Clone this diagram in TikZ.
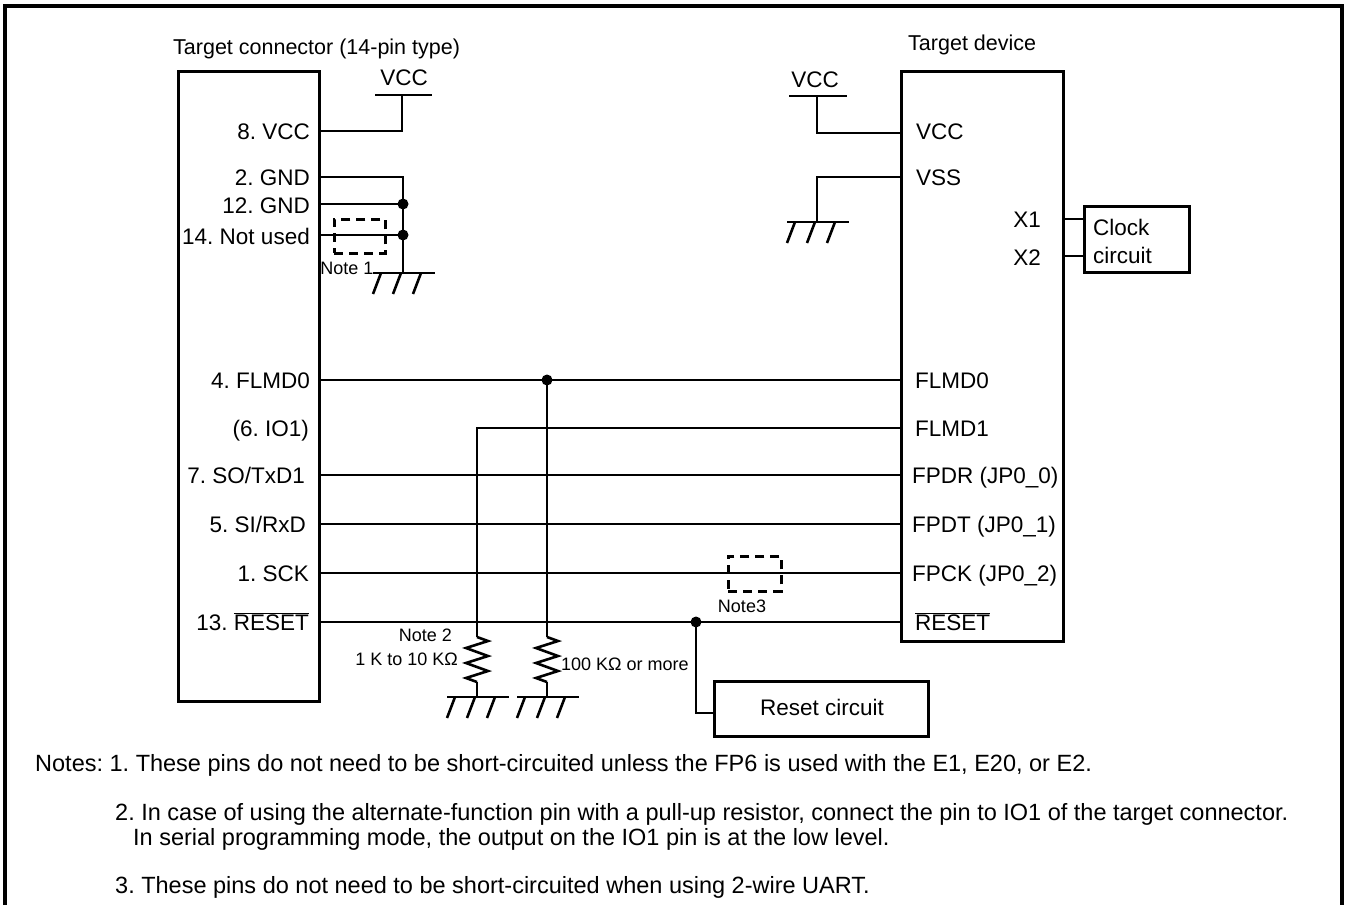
\documentclass[tikz,border=0pt]{standalone}
\usepackage{fontspec}
\setmainfont{Liberation Sans}
\frenchspacing
\begin{document}
\begin{tikzpicture}[x=1pt,y=-1pt,
  wire/.style={line width=2.6pt},
  boxed/.style={draw, line width=2.6pt, inner sep=0pt},
  dashbox/.style={draw, line width=2.6pt, dash pattern=on 9pt off 6pt, inner sep=0pt},
  lbl/.style={font=\fontsize{22.5}{26}\selectfont, inner sep=0pt},
  ttl/.style={font=\fontsize{21.5}{25}\selectfont, inner sep=0pt},
  sml/.style={font=\fontsize{18}{20}\selectfont, inner sep=0pt},
  nts/.style={font=\fontsize{23.5}{27}\selectfont, inner sep=0pt, anchor=base west},
  jdot/.style={circle, fill, inner sep=0pt, minimum size=11pt},
  gnd/.pic={\draw[wire] (-30,0) -- (32,0);
            \foreach \d in {-22,-2,18} \draw[wire] (\d,0) -- (\d-8,21);},
  resz/.pic={\draw[wire, line join=miter] (0,0) -- (11,4) -- (-11,11) -- (11,19) -- (-11,26) -- (11,34) -- (-11,41) -- (0,45);}
]
\useasboundingbox (0,0) rectangle (1346,905);
\draw[line width=3.5pt] (5,905) -- (5,6) -- (1342,6) -- (1342,905);

% titles
\node[ttl, anchor=base west] (t1) at (173,54) {Target connector (14-pin type)};
\node[ttl, anchor=base west] (t2) at (908,50) {Target device};

% boxes
\node[boxed, minimum width=141pt, minimum height=630pt, anchor=north west] (conn) at (177,70) {};
\node[boxed, minimum width=162pt, minimum height=570pt, anchor=north west] (dev) at (900,70) {};
\node[boxed, minimum width=105pt, minimum height=66pt, anchor=north west] (clk) at (1083,205) {};
\node[boxed, minimum width=214pt, minimum height=55pt, anchor=north west] (rst) at (713,680) {};
\node[lbl, anchor=base west] (clkt1) at (1093,235) {Clock};
\node[lbl, anchor=base west] (clkt2) at (1093,263) {circuit};
\node[lbl] (rstt) at (822,707) {Reset circuit};

% left pin labels
\node[lbl, anchor=base east] (l8) at (310,139) {8. VCC};
\node[lbl, anchor=base east] (l2) at (310,185) {2. GND};
\node[lbl, anchor=base east] (l12) at (310,213) {12. GND};
\node[lbl, anchor=base east] (l14) at (310,244) {14. Not used};
\node[lbl, anchor=base east] (l4) at (310,388) {4. FLMD0};
\node[lbl, anchor=base east] (l6) at (309,436) {(6. IO1)};
\node[lbl, anchor=base east] (l7) at (305,483) {7. SO/TxD1};
\node[lbl, anchor=base east] (l5) at (306,532) {5. SI/RxD};
\node[lbl, anchor=base east] (l1) at (309,581) {1. SCK};
\node[lbl, anchor=base east] (l13) at (309,630) {13. $\overline{\mbox{RESET}}$};

% right pin labels
\node[lbl, anchor=base west] (rvcc) at (916,139) {VCC};
\node[lbl, anchor=base west] (rvss) at (916,185) {VSS};
\node[lbl, anchor=base east] (rx1) at (1041,227) {X1};
\node[lbl, anchor=base east] (rx2) at (1041,265) {X2};
\node[lbl, anchor=base west] (rf0) at (915,388) {FLMD0};
\node[lbl, anchor=base west] (rf1) at (915,436) {FLMD1};
\node[lbl, anchor=base west] (rdr) at (912,483) {FPDR (JP0\_0)};
\node[lbl, anchor=base west] (rdt) at (912,532) {FPDT (JP0\_1)};
\node[lbl, anchor=base west] (rck) at (912,581) {FPCK (JP0\_2)};
\node[lbl, anchor=base west] (rrs) at (915,630) {$\overline{\mbox{RESET}}$};

% left VCC
\coordinate (lv) at (402,95);
\draw[wire] (375,95) -- (432,95);
\node[lbl] (lvcc) at (404,78) {VCC};
\draw[wire] (conn.east |- 0,131) -| (lv);

% left GND
\coordinate (lg) at (403,273);
\draw[wire] (conn.east |- 0,177) -| (lg);
\draw[wire] (conn.east |- 0,204) -- (403,204) node[jdot] (d12) {};
\draw[wire] (conn.east |- 0,235) -- (403,235) node[jdot] (d14) {};
\pic at (lg) {gnd};
\node[dashbox, minimum width=51pt, minimum height=34pt, anchor=north west] (n1) at (333,218) {};
\node[sml] (n1t) at (347,268) {Note 1};

% right VCC / VSS
\coordinate (rv) at (817,96);
\draw[wire] (789,96) -- (847,96);
\node[lbl] (rvcct) at (815,80) {VCC};
\draw[wire] (dev.west |- 0,133) -| (rv);
\coordinate (rg) at (817,222);
\draw[wire] (dev.west |- 0,177) -| (rg);
\pic at (rg) {gnd};

% clock lines
\draw[wire] (dev.east |- 0,219) -- (clk.west |- 0,219);
\draw[wire] (dev.east |- 0,256) -- (clk.west |- 0,256);

% signal lines
\draw[wire] (conn.east |- 0,380) -- (dev.west |- 0,380);
\draw[wire] (conn.east |- 0,475) -- (dev.west |- 0,475);
\draw[wire] (conn.east |- 0,524) -- (dev.west |- 0,524);
\draw[wire] (conn.east |- 0,573) -- (dev.west |- 0,573);
\draw[wire] (conn.east |- 0,622) -- (dev.west |- 0,622);
\node[jdot] (dfl) at (547,380) {};
\node[jdot] (drs) at (696,622) {};

% FLMD1 and resistors
\coordinate (r1) at (477,637);
\coordinate (r2) at (547,637);
\draw[wire] (dev.west |- 0,428) -- (477,428) -- (r1);
\draw[wire] (dfl.center) -- (r2);
\pic at (r1) {resz};
\pic at (r2) {resz};
\coordinate (g1) at (477,697);
\coordinate (g2) at (547,697);
\draw[wire] (477,682) -- (g1);
\draw[wire] (547,682) -- (g2);
\pic at (g1) {gnd};
\pic at (g2) {gnd};
\node[sml, anchor=base east] (n2t) at (452,641) {Note 2};
\node[sml, anchor=base east] (r1t) at (458,665) {1 K to 10 KΩ};
\node[sml, anchor=base west] (r2t) at (561,670) {100 KΩ or more};

% reset circuit link
\draw[wire] (drs.center) |- (rst.west |- 0,713);

% Note 3
\node[dashbox, minimum width=53pt, minimum height=35pt, anchor=north west] (n3) at (727,555) {};
\node[sml] (n3t) at (742,606) {Note3};

% notes
\node[nts] (nt1) at (35,771) {Notes: 1. These pins do not need to be short-circuited unless the FP6 is used with the E1, E20, or E2.};
\node[nts] (nt2) at (115,820) {2. In case of using the alternate-function pin with a pull-up resistor, connect the pin to IO1 of the target connector.};
\node[nts] (nt3) at (133,845) {In serial programming mode, the output on the IO1 pin is at the low level.};
\node[nts] (nt4) at (115,893) {3. These pins do not need to be short-circuited when using 2-wire UART.};
\end{tikzpicture}
\end{document}
